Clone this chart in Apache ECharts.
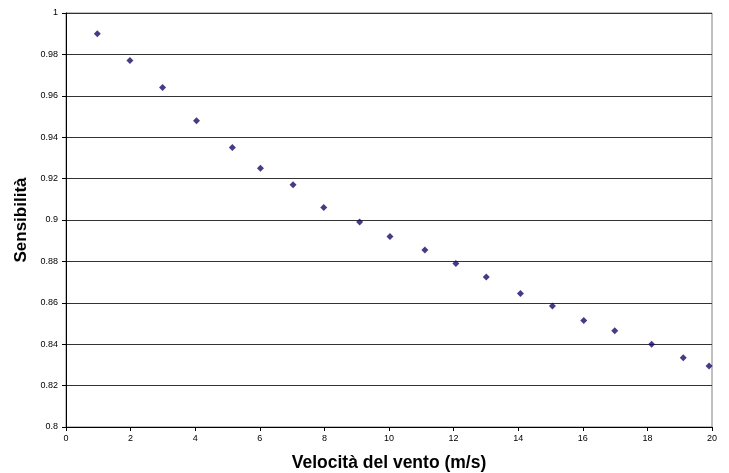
<!DOCTYPE html>
<html><head><meta charset="utf-8">
<script src="https://cdn.jsdelivr.net/npm/echarts@6/dist/echarts.min.js"></script>
<style>html,body{margin:0;padding:0;background:#fff}#c{width:729px;height:473px}</style>
</head><body><div id="c"></div>
<script>
const windSpeed = [0.97,1.98,2.99,4.04,5.15,6.02,7.03,7.98,9.09,10.03,11.11,12.07,13.01,14.07,15.06,16.03,16.99,18.13,19.11,19.91];
const sensitivity = [0.990,0.977,0.964,0.948,0.935,0.925,0.917,0.906,0.899,0.892,0.8855,0.879,0.8725,0.8645,0.8585,0.8515,0.8465,0.840,0.8335,0.8295];
const xTitle = 'Velocità del vento (m/s)';
const yTitle = 'Sensibilità';
const data = windSpeed.map((x,i)=>[x, sensitivity[i]]);
const chart = echarts.init(document.getElementById('c'));
const font = 'Liberation Sans, Arial, sans-serif';
chart.setOption({
  animation:false,
  grid:{left:66,right:17,top:13,bottom:46,show:true,borderColor:'#808080',borderWidth:1,
    containLabel:false,outerBoundsMode:'none'},
  xAxis:{type:'value',min:0,max:20,interval:2,
    name:xTitle,nameLocation:'middle',nameGap:27,
    nameTextStyle:{fontFamily:font,fontSize:17.5,fontWeight:'bold',color:'#000'},
    axisLine:{show:true,lineStyle:{color:'#000',width:1}},
    axisTick:{show:true,length:4,lineStyle:{color:'#000'}},
    axisLabel:{fontFamily:font,fontSize:9,color:'#000',margin:7},
    splitLine:{show:false}},
  yAxis:{type:'value',min:0.8,max:1,interval:0.02,
    name:yTitle,nameLocation:'middle',nameGap:33,
    nameTextStyle:{fontFamily:font,fontSize:17,fontWeight:'bold',color:'#000'},
    axisLine:{show:true,lineStyle:{color:'#000',width:1}},
    axisTick:{show:true,length:4,lineStyle:{color:'#000'}},
    axisLabel:{fontFamily:font,fontSize:9,color:'#000',margin:8,
      formatter:v=>String(parseFloat(v.toFixed(2)))},
    splitLine:{show:true,lineStyle:{color:'#333',width:1}}},
  series:[{type:'scatter',data:data,symbol:'diamond',symbolSize:7,
    itemStyle:{color:'#1e0868'}}]
});
</script></body></html>
